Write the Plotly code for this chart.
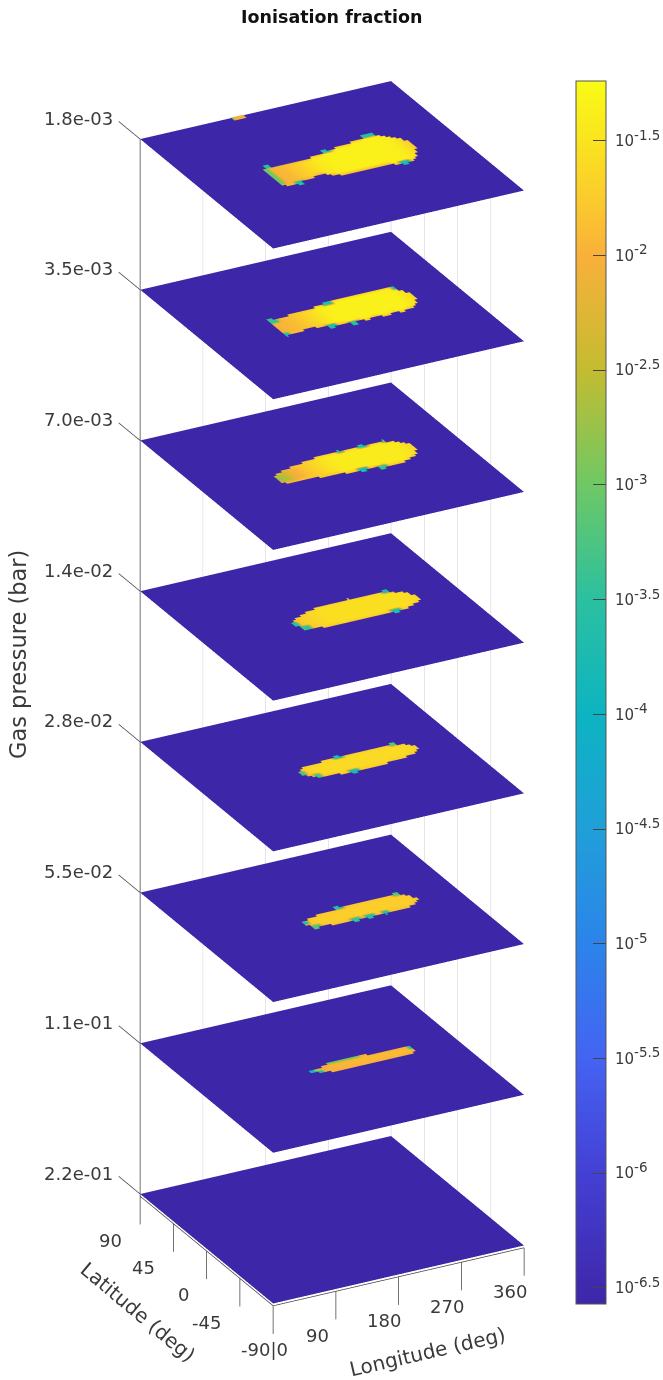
import numpy as np
import plotly.graph_objects as go

PRESSURE_LABELS = ["2.2e-01", "1.1e-01", "5.5e-02", "2.8e-02", "1.4e-02", "7.0e-03", "3.5e-03", "1.8e-03"]
LON_TICKS = [0, 90, 180, 270, 360]
LAT_TICKS = [90, 45, 0, -45, -90]
CB_TICKS = [-1.5, -2, -2.5, -3, -3.5, -4, -4.5, -5, -5.5, -6, -6.5]
CB_LABELS = ["-1.5", "-2", "-2.5", "-3", "-3.5", "-4", "-4.5", "-5", "-5.5", "-6", "-6.5"]
CMIN, CMAX = -6.57, -1.24
BACKGROUND = -6.57

# Dayside patch per level, top level first: first column longitude, then for every 5 deg column
# the northern and southern latitude edge and the log10 ionisation fraction of the core.
start_0 = 95
north_0 = [12.5,15,15,15,12.5,12.5,12.5,12.5,12.5,12.5, 12.5,12.5,12.5,12.5,15,15,15,15,17.5,17.5,
           17.5,17.5,20,20,20,20,20,22.5,22.5,22.5, 22.5,25,25,25,25,25,22.5,20,17.5,15, 12.5,7.5]
south_0 = [-10,-12.5,-12.5,-12.5,-12.5,-12.5,-10,-10,-10,-10, -10,-7.5,-7.5,-10,-12.5,-12.5,-15,-15,-15,-15,
           -15,-15,-15,-15,-15,-15,-15,-15,-15,-15, -15,-17.5,-17.5,-17.5,-17.5,-17.5,-17.5,-17.5,-15,-12.5, -7.5,-2.5]
core_0 = [-2.0,-2.0,-2.0,-1.95,-1.95,-1.9,-1.85,-1.8,-1.75,-1.7, -1.65,-1.6,-1.55,-1.5,-1.45,-1.45,-1.4,-1.4,-1.35,-1.35,
          -1.35,-1.35,-1.35,-1.35,-1.35,-1.35,-1.35,-1.35,-1.35,-1.35, -1.35,-1.35,-1.35,-1.35,-1.35,-1.4,-1.4,-1.45,-1.5,-1.6, -1.7,-1.9]
rim_0 = -1.95

start_1 = 100
north_1 = [7.5,10,10,10,10,10,12.5,12.5,12.5,12.5, 12.5,12.5,12.5,12.5,15,15,15,15,15,17.5,
           17.5,17.5,17.5,17.5,17.5,17.5,17.5,17.5,17.5,17.5, 17.5,17.5,17.5,17.5,17.5,17.5,17.5,15,12.5,10, 5]
south_1 = [-10,-10,-10,-10,-10,-10,-10,-7.5,-7.5,-10, -10,-10,-10,-12.5,-12.5,-12.5,-12.5,-12.5,-15,-15,
           -15,-12.5,-15,-15,-15,-12.5,-12.5,-15,-15,-15, -15,-12.5,-15,-15,-15,-12.5,-12.5,-12.5,-10,-7.5, -2.5]
core_1 = [-2.0,-2.0,-1.95,-1.95,-1.9,-1.9,-1.85,-1.8,-1.75,-1.7, -1.65,-1.6,-1.55,-1.5,-1.45,-1.4,-1.4,-1.38,-1.35,-1.35,
          -1.35,-1.35,-1.35,-1.35,-1.35,-1.35,-1.35,-1.35,-1.35,-1.35, -1.35,-1.35,-1.35,-1.35,-1.35,-1.38,-1.4,-1.45,-1.5,-1.6, -1.85]
rim_1 = -1.85

start_2 = 100
north_2 = [2.5,5,5,7.5,7.5,7.5,10,10,10,10, 12.5,12.5,12.5,12.5,15,15,15,15,15,15,
           15,15,15,15,15,15,15,15,15,15, 15,15,15,15,15,15,12.5,12.5,10,7.5, 5]
south_2 = [-5,-7.5,-7.5,-7.5,-7.5,-7.5,-7.5,-7.5,-7.5,-7.5, -10,-10,-10,-10,-10,-10,-10,-12.5,-12.5,-12.5,
           -12.5,-12.5,-15,-12.5,-12.5,-12.5,-15,-15,-12.5,-15, -15,-15,-15,-15,-15,-12.5,-12.5,-10,-10,-7.5, -2.5]
core_2 = [-2.8,-2.7,-2.6,-2.5,-2.3,-2.1,-2.0,-1.95,-1.85,-1.8, -1.75,-1.7,-1.65,-1.6,-1.55,-1.5,-1.48,-1.45,-1.45,-1.42,
          -1.42,-1.42,-1.42,-1.42,-1.42,-1.42,-1.42,-1.42,-1.42,-1.42, -1.42,-1.42,-1.42,-1.42,-1.42,-1.42,-1.45,-1.5,-1.55,-1.6, -1.8]
rim_2 = -1.8

start_3 = 125
north_3 = [2.5,5,7.5,7.5,10,10,12.5,12.5,12.5,15, 15,15,15,15,15,15,15,15,15,17.5,
           17.5,15,15,15,15,15,15,15,15,15, 15,12.5,12.5,10,10,7.5,2.5]
south_3 = [0,-5,-5,-7.5,-7.5,-7.5,-10,-10,-10,-10, -10,-10,-12.5,-10,-10,-10,-10,-10,-10,-10,
           -10,-10,-10,-10,-10,-10,-10,-12.5,-10,-10, -10,-10,-7.5,-7.5,-5,-5,-2.5]
core_3 = [-1.9,-1.85,-1.8,-1.75,-1.7,-1.68,-1.65,-1.62,-1.6,-1.58, -1.55,-1.55,-1.55,-1.55,-1.55,-1.55,-1.55,-1.55,-1.55,-1.55,
          -1.55,-1.55,-1.55,-1.55,-1.55,-1.55,-1.55,-1.55,-1.55,-1.55, -1.55,-1.55,-1.55,-1.58,-1.6,-1.65,-1.8]
rim_3 = -1.75

start_4 = 135
north_4 = [2.5,5,7.5,7.5,7.5,7.5,7.5,7.5,10,10, 10,10,10,10,10,10,10,10,10,10,
           10,10,10,10,10,10,10,10,10,10, 10,7.5,7.5,5,2.5]
south_4 = [0,-2.5,-5,-5,-7.5,-7.5,-7.5,-7.5,-7.5,-10, -10,-10,-10,-10,-10,-10,-10,-10,-10,-10,
           -10,-10,-10,-10,-7.5,-7.5,-7.5,-7.5,-7.5,-7.5, -5,-5,-5,-2.5,0]
core_4 = [-1.8,-1.75,-1.7,-1.68,-1.65,-1.62,-1.6,-1.6,-1.6,-1.6, -1.6,-1.6,-1.6,-1.6,-1.6,-1.6,-1.6,-1.6,-1.6,-1.6,
          -1.6,-1.6,-1.6,-1.6,-1.6,-1.6,-1.6,-1.6,-1.6,-1.6, -1.6,-1.62,-1.65,-1.7,-1.8]
rim_4 = -1.75

start_5 = 140
north_5 = [2.5,2.5,5,5,5,7.5,7.5,7.5,7.5,7.5, 7.5,7.5,10,10,10,10,10,10,10,10,
           10,10,10,10,10,10,10,10,10,7.5, 7.5,7.5,5,0]
south_5 = [0,-2.5,-5,-5,-5,-5,-7.5,-7.5,-7.5,-7.5, -7.5,-7.5,-7.5,-7.5,-7.5,-7.5,-7.5,-7.5,-7.5,-7.5,
           -7.5,-7.5,-7.5,-7.5,-7.5,-7.5,-7.5,-7.5,-7.5,-7.5, -5,-5,-2.5,0]
core_5 = [-1.85,-1.8,-1.75,-1.72,-1.72,-1.72,-1.72,-1.72,-1.72,-1.72, -1.72,-1.72,-1.72,-1.72,-1.72,-1.72,-1.72,-1.72,-1.72,-1.72,
          -1.72,-1.72,-1.72,-1.72,-1.72,-1.72,-1.72,-1.72,-1.72,-1.72, -1.72,-1.75,-1.8,-1.85]
rim_5 = -1.85

start_6 = 160
north_6 = [2.5,2.5,5,5,5,5,5,5,7.5,7.5, 7.5,7.5,7.5,7.5,7.5,7.5,7.5,5,5,5,
           5,5,5,5,5,5,5,5,2.5]
south_6 = [0,0,0,-2.5,-2.5,-2.5,-2.5,-2.5,-2.5,-2.5, -2.5,-2.5,-2.5,-2.5,-2.5,-2.5,-2.5,-2.5,-2.5,-2.5,
           -2.5,-2.5,-2.5,-2.5,-2.5,-2.5,-2.5,-2.5,0]
core_6 = [-2.1,-2.05,-2.0,-2.0,-1.98,-1.98,-1.95,-1.95,-1.95,-1.95, -1.95,-1.95,-1.92,-1.92,-1.92,-1.92,-1.9,-1.9,-1.9,-1.9,
          -1.9,-1.9,-1.9,-1.9,-1.9,-1.9,-1.9,-1.95,-2.0]
rim_6 = -2.0

# Off-patch spots per level: lon from, lon to, lat from, lat to, log10 value.
spots_0 = [(130,135,85,90,-3.0),(135,150,85,90,-2.0),(250,270,25,27.5,-3.6),(185,195,17.5,20,-3.6),
           (260,270,-20,-17.5,-3.7),(115,125,-15,-12.5,-3.6),(100,110,15,17.5,-3.6),(95,100,-10,12.5,-3.0)]
spots_1 = [(100,105,-12.5,-10,-3.6),(100,110,7.5,12.5,-3.4),(185,195,15,17.5,-3.6),(285,290,15,17.5,-3.7),
           (190,200,-17.5,-15,-3.6),(160,170,-15,-12.5,-3.7)]
spots_2 = [(235,245,15,17.5,-3.6),(205,210,15,17.5,-3.4),(205,215,-15,-12.5,-3.7),(230,240,-17.5,-15,-3.4),(270,275,15,17.5,-3.2)]
spots_3 = [(270,280,15,17.5,-3.7),(255,265,-12.5,-10,-3.6),(125,130,-2.5,2.5,-3.6),(130,140,-7.5,-5,-3.4)]
spots_4 = [(195,205,10,12.5,-3.7),(195,205,-12.5,-10,-3.7),(135,140,-2.5,2.5,-3.3),(275,285,10,12.5,-3.2),(150,155,-7.5,-5,-3.3)]
spots_5 = [(195,205,10,12.5,-3.6),(200,210,-10,-7.5,-3.4),(220,230,-10,-7.5,-3.6),(245,250,-10,-7.5,-3.6),
           (280,290,10,12.5,-3.2),(140,145,0,2.5,-3.6),(145,155,-7.5,-5,-3.2)]
spots_6 = [(180,225,7.5,7.5,-3.0),(150,155,0,5,-4.0),(160,165,-2.5,0,-3.6),(295,300,2.5,5,-3.5)]

LEVEL_START = [start_0, start_1, start_2, start_3, start_4, start_5, start_6]
LEVEL_NORTH = [north_0, north_1, north_2, north_3, north_4, north_5, north_6]
LEVEL_SOUTH = [south_0, south_1, south_2, south_3, south_4, south_5, south_6]
LEVEL_CORE = [core_0, core_1, core_2, core_3, core_4, core_5, core_6]
LEVEL_RIM = [rim_0, rim_1, rim_2, rim_3, rim_4, rim_5, rim_6]
LEVEL_SPOTS = [spots_0, spots_1, spots_2, spots_3, spots_4, spots_5, spots_6]

COLORSCALE = [[0.0, "#3e26a8"], [0.107, "#4440d4"], [0.2, "#4463f2"], [0.295, "#2c84ea"], [0.388, "#209fd9"],
              [0.482, "#0cb4c2"], [0.576, "#2bc0a0"], [0.67, "#6fc864"], [0.764, "#c4bc30"], [0.857, "#f9b03a"],
              [0.904, "#fbcb2c"], [0.951, "#fae41f"], [1.0, "#f9fb15"]]

LON_GRID = np.arange(0, 360.1, 5.0)
LAT_GRID = np.arange(-90, 90.1, 2.5)

Z_FLOOR = -0.015
Z_TICK = 0.186
LAT_TICK_END = 119.0
Z_OFFSET = 0.004

fig = go.Figure()

for lev in range(8):
    fig.add_trace(go.Surface(x=[0, 360], y=[-90, 90], z=[[lev, lev], [lev, lev]],
                             surfacecolor=[[BACKGROUND, BACKGROUND], [BACKGROUND, BACKGROUND]],
                             coloraxis="coloraxis", hoverinfo="skip",
                             lighting=dict(ambient=1, diffuse=0, specular=0, fresnel=0, roughness=1)))

ny = LAT_GRID.size
for k in range(7):
    lev = 7 - k
    c = np.full((ny, LON_GRID.size), np.nan)
    lon0 = LEVEL_START[k]
    n, s, v = LEVEL_NORTH[k], LEVEL_SOUTH[k], LEVEL_CORE[k]
    assert len(n) == len(s) == len(v), (k, len(n), len(s), len(v))
    for i in range(len(n)):
        col = int(round((lon0 + 5 * i) / 5))
        # quads need all four vertices, so the column covers one row beyond each read edge
        jn = int(round((n[i] + 90) / 2.5)) + 1
        js = int(round((s[i] + 90) / 2.5)) - 1
        for j in range(js, jn + 1):
            edge = min(j - js, jn - j)
            if edge == 0:
                c[j, col] = LEVEL_RIM[k]
            elif edge == 1:
                c[j, col] = 0.5 * (LEVEL_RIM[k] + v[i])
            else:
                c[j, col] = v[i]
    for (lo1, lo2, la1, la2, val) in LEVEL_SPOTS[k]:
        i1, i2 = int(round(lo1 / 5)), int(round(lo2 / 5))
        j1, j2 = int(round((la1 + 90) / 2.5)), int(round((la2 + 90) / 2.5))
        if la1 > 0:
            j2 = min(j2 + 1, ny - 1)
        elif la2 < 0:
            j1 = j1 - 1
        c[j1:j2 + 1, i1:i2 + 1] = val
    z = np.where(np.isnan(c), np.nan, lev + Z_OFFSET)
    fig.add_trace(go.Surface(x=LON_GRID, y=LAT_GRID, z=z, surfacecolor=c, coloraxis="coloraxis", hoverinfo="skip",
                             connectgaps=False,
                             lighting=dict(ambient=1, diffuse=0, specular=0, fresnel=0, roughness=1)))

gx, gy, gz = [], [], []
for lo in LON_TICKS[1:]:
    gx += [lo, lo, None]; gy += [90, 90, None]; gz += [Z_FLOOR, 7, None]
for la in LAT_TICKS[1:-1]:
    gx += [360, 360, None]; gy += [la, la, None]; gz += [Z_FLOOR, 7, None]
fig.add_trace(go.Scatter3d(x=gx, y=gy, z=gz, mode="lines", line=dict(color="#d6d6da", width=1.2), hoverinfo="skip", showlegend=False))

ax, ay, az = [0, 0, None], [90, 90, None], [Z_FLOOR, 7, None]
ax += [0, 0, 360, None]; ay += [90, -90, -90, None]; az += [Z_FLOOR, Z_FLOOR, Z_FLOOR, None]
for lo in LON_TICKS:
    ax += [lo, lo, None]; ay += [-90, -90, None]; az += [Z_FLOOR, Z_FLOOR - Z_TICK, None]
for la in LAT_TICKS:
    ax += [0, 0, None]; ay += [la, la, None]; az += [Z_FLOOR, Z_FLOOR - Z_TICK, None]
for lev in range(8):
    ax += [0, 0, None]; ay += [90, LAT_TICK_END, None]; az += [lev, lev, None]
fig.add_trace(go.Scatter3d(x=ax, y=ay, z=az, mode="lines", line=dict(color="#444444", width=1.5), hoverinfo="skip", showlegend=False))

TXT = "#3a3a3a"
FONT = "DejaVu Sans"
TICK_SIZE = 18
notes = []
for lev, lab in enumerate(PRESSURE_LABELS):
    notes.append(dict(x=0, y=90, z=lev, text=lab, showarrow=False, xshift=-62, yshift=21,
                      font=dict(family=FONT, size=TICK_SIZE, color=TXT)))
for la, dx in zip(LAT_TICKS[:-1], [-30, -30, -23, -33]):
    notes.append(dict(x=0, y=la, z=0, text=str(la), showarrow=False, xshift=dx, yshift=-46,
                      font=dict(family=FONT, size=TICK_SIZE, color=TXT)))
notes.append(dict(x=0, y=-90, z=0, text="-90|0", showarrow=False, xshift=-9, yshift=-46,
                  font=dict(family=FONT, size=TICK_SIZE, color=TXT)))
for lo, dx in zip(LON_TICKS[1:], [-18, -15, -14, -14]):
    notes.append(dict(x=lo, y=-90, z=0, text=str(lo), showarrow=False, xshift=dx, yshift=-46,
                      font=dict(family=FONT, size=TICK_SIZE, color=TXT)))

W, H = 663, 1380
axis_off = dict(visible=False, showgrid=False, zeroline=False, showticklabels=False, showspikes=False, showbackground=False)
LON_RANGE = [0, 360]
LAT_RANGE = [-90, 120]
Z_RANGE = [-0.25, 7.05]
el = np.radians(26.1); az_ = np.radians(27.6)
R = 3.0
cb_text = ['\u2004<span style="font-size:15px">10</span><sup><span style="font-size:13.5px">%s</span></sup>' % s for s in CB_LABELS]
fig.update_layout(
    width=W, height=H, margin=dict(l=0, r=0, t=0, b=0, autoexpand=False), paper_bgcolor="white", showlegend=False,
    font=dict(family=FONT),
    coloraxis=dict(cmin=CMIN, cmax=CMAX, colorscale=COLORSCALE,
                   colorbar=dict(x=576 / W, xanchor="left", xpad=0, y=1 - 81 / H, yanchor="top", ypad=0,
                                 len=1223 / H, lenmode="fraction", thickness=30, thicknessmode="pixels",
                                 outlinecolor="#555555", outlinewidth=1,
                                 ticks="inside", ticklen=13, tickcolor="#444444", tickwidth=1,
                                 tickvals=CB_TICKS, ticktext=cb_text,
                                 tickfont=dict(family=FONT, size=15, color=TXT))),
    scene=dict(
        domain=dict(x=[0, 1], y=[0, 1]),
        xaxis=dict(range=LON_RANGE, **axis_off),
        yaxis=dict(range=LAT_RANGE, **axis_off),
        zaxis=dict(range=Z_RANGE, **axis_off),
        aspectmode="manual",
        aspectratio=dict(x=0.4116, y=0.4802, z=1.772),
        camera=dict(projection=dict(type="orthographic"),
                    up=dict(x=0, y=0, z=1),
                    center=dict(x=0.0159, y=-0.0024, z=0.0107),
                    eye=dict(x=-np.sin(az_) * np.cos(el) * R, y=-np.cos(az_) * np.cos(el) * R, z=np.sin(el) * R)),
        annotations=notes,
    ),
    annotations=[
        dict(text="<b>Ionisation fraction</b>", x=331 / W, y=1 - 17 / H, xref="paper", yref="paper", showarrow=False,
             xanchor="center", yanchor="middle", font=dict(family=FONT, size=17.5, color="#111111")),
        dict(text="Gas pressure (bar)", x=18 / W, y=1 - 655 / H, xref="paper", yref="paper", showarrow=False, textangle=-90,
             xanchor="center", yanchor="middle", font=dict(family=FONT, size=22.5, color=TXT)),
        dict(text="Latitude (deg)", x=138 / W, y=1 - 1312 / H, xref="paper", yref="paper", showarrow=False, textangle=40,
             xanchor="center", yanchor="middle", font=dict(family=FONT, size=20, color=TXT)),
        dict(text="Longitude (deg)", x=427 / W, y=1 - 1352 / H, xref="paper", yref="paper", showarrow=False, textangle=-13,
             xanchor="center", yanchor="middle", font=dict(family=FONT, size=20, color=TXT)),
    ],
)
fig.write_html("out.html", post_script="document.body.style.margin='0';document.documentElement.style.overflow='hidden';",
               config=dict(displayModeBar=False))
